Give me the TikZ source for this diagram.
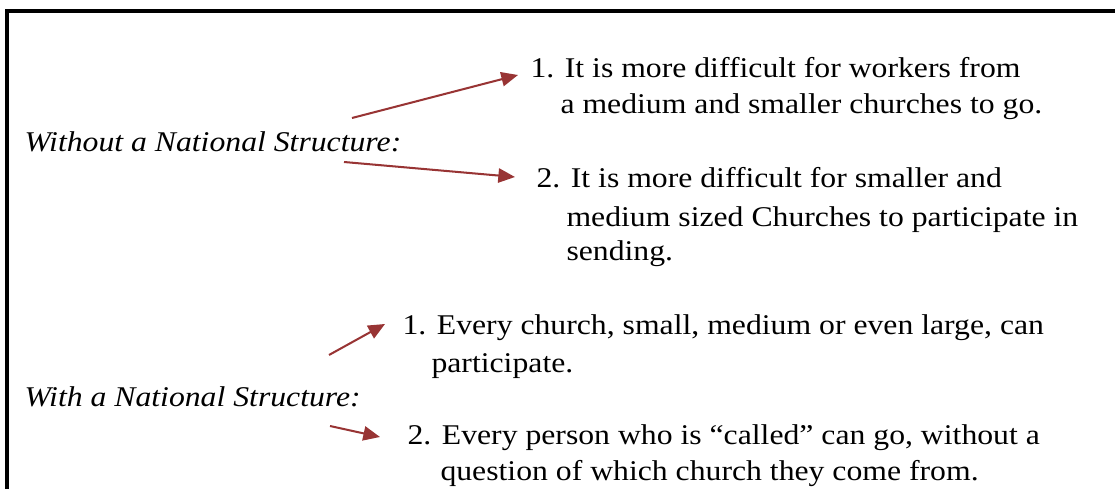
\documentclass[tikz,border=0pt]{standalone}
\usepackage{fontspec}
\setmainfont{Liberation Serif}
\usepackage{xcolor}
\definecolor{arrowred}{RGB}{152,52,52}
\usetikzlibrary{arrows.meta,positioning}
\tikzset{frameline/.style={line width=1.7pt, black}}
\tikzset{heading/.style={anchor=base west, font=\itshape\fontsize{12}{14}\selectfont, inner sep=0pt, xscale=1.11, transform shape}}
\tikzset{itemtext/.style={anchor=base west, font=\fontsize{12}{14}\selectfont, inner sep=0pt, xscale=1.11, transform shape}}
\tikzset{arrow/.style={line width=0.85pt, arrowred, -{Triangle[length=7pt,width=6pt]}}}

\begin{document}
\begin{tikzpicture}[x=0.42pt,y=-0.42pt]
\useasboundingbox (0,0) rectangle (1115,489);
% open frame
\draw[frameline] (7,489) -- (7,11) -- (1115,11);
% without
\node[heading] (without) at (24,152) {Without a National Structure:};
\node[itemtext] (wa) at (530,78) {1. It is more difficult for workers from};
\node[itemtext] (wa2) at (560,114) {a medium and smaller churches to go.};
\node[itemtext] (wb) at (536,188) {2. It is more difficult for smaller and};
\node[itemtext] (wb2) at (566,227) {medium sized Churches to participate in};
\node[itemtext] (wb3) at (566,261) {sending.};
\coordinate (wtaila) at (352,118);
\coordinate (wtailb) at (344,162);
\draw[arrow] (wtaila) -- ([shift={(-12,-3)}]wa.base west);
\draw[arrow] (wtailb) -- ([shift={(-21,-11)}]wb.base west);
% with
\node[heading] (with) at (24,407) {With a National Structure:};
\node[itemtext] (ha) at (402,335) {1. Every church, small, medium or even large, can};
\node[itemtext] (ha2) at (431,373) {participate.};
\node[itemtext] (hb) at (407,445) {2. Every person who is “called” can go, without a};
\node[itemtext] (hb2) at (440,480) {question of which church they come from.};
\coordinate (htaila) at (329,355);
\coordinate (htailb) at (330,426);
\draw[arrow] (htaila) -- ([shift={(-17,-11)}]ha.base west);
\draw[arrow] (htailb) -- ([shift={(-27,-8)}]hb.base west);
\end{tikzpicture}
\end{document}
